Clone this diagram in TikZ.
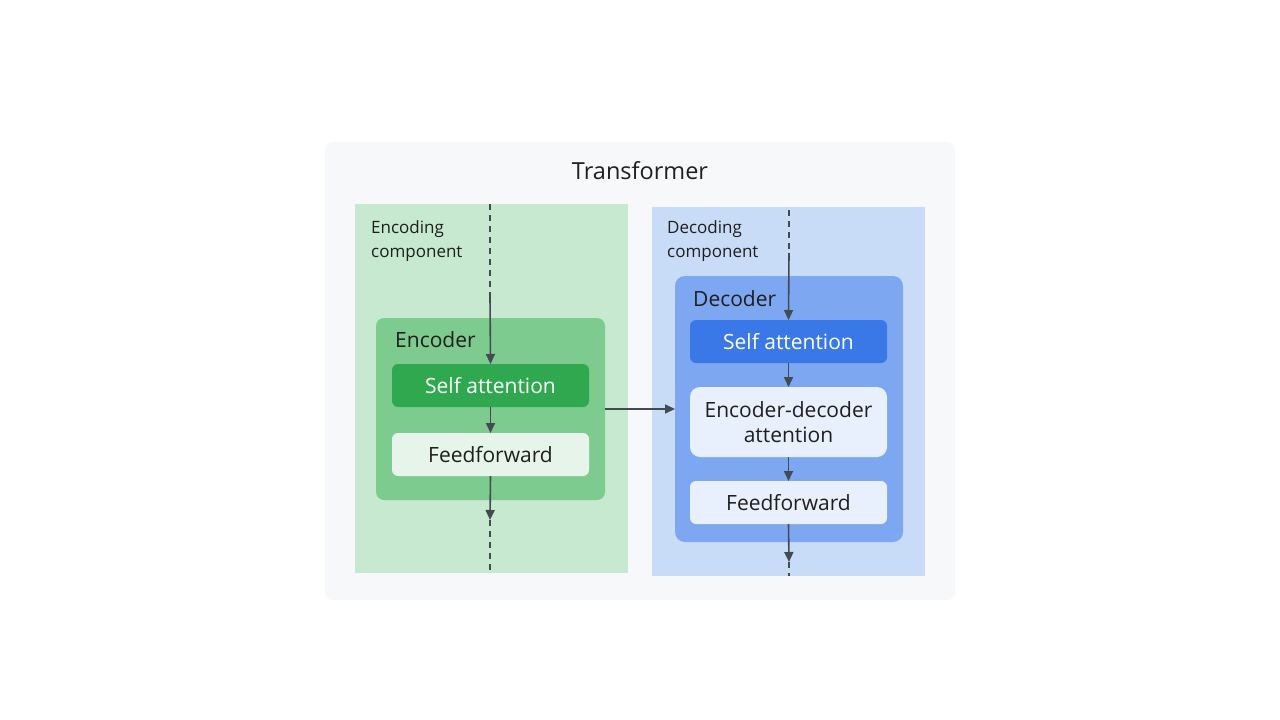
\documentclass[tikz,border=0pt]{standalone}
\usepackage{fontspec}
\setmainfont{Open Sans}
\usetikzlibrary{arrows.meta}
\definecolor{bgpanel}{HTML}{F7F8FA}
\definecolor{encouter}{HTML}{C6E9CF}
\definecolor{encmid}{HTML}{7ECB8F}
\definecolor{encself}{HTML}{2FA84F}
\definecolor{encff}{HTML}{E6F4EA}
\definecolor{decouter}{HTML}{C9DCF7}
\definecolor{decmid}{HTML}{7DA7F1}
\definecolor{decself}{HTML}{3B78E7}
\definecolor{decff}{HTML}{E8F0FD}
\definecolor{txt}{HTML}{1F1F1F}
\definecolor{arr}{HTML}{444A52}
\tikzset{
  region/.style={anchor=north west, inner sep=0pt, outer sep=0pt},
  blk/.style={anchor=north west, inner sep=0pt, outer sep=0pt, rounded corners=6pt},
  lbl/.style={anchor=west, inner sep=0pt, text=txt, font=\fontsize{17}{24}\selectfont, align=left},
  ttl/.style={anchor=west, inner sep=0pt, text=txt, font=\fontsize{21}{26}\selectfont},
  btxt/.style={text=txt, font=\fontsize{21}{26}\selectfont, align=center},
  flow/.style={draw=arr, line width=1.6pt, -{Triangle[length=10pt,width=9pt]}},
  dflow/.style={draw=arr, line width=1.6pt, dash pattern=on 6pt off 5pt},
}
\begin{document}
\begin{tikzpicture}[x=1pt,y=-1pt]
\useasboundingbox (0,0) rectangle (1280,720);
\fill[white] (0,0) rectangle (1280,720);
% outer panel
\node[region, fill=bgpanel, rounded corners=8pt, minimum width=630pt, minimum height=458pt] (panel) at (325,142) {};
\node[txt, font=\fontsize{23.5}{28}\selectfont, inner sep=0pt] (title) at (640,171) {Transformer};
% encoding side
\node[region, fill=encouter, minimum width=273pt, minimum height=369pt] (enccomp) at (355,204) {};
\node[lbl] (enclbl) at (371,241) {Encoding\\component};
\node[blk, fill=encmid, rounded corners=8pt, minimum width=229pt, minimum height=182pt] (encoder) at (376,318) {};
\node[ttl] (enctitle) at (395,340) {Encoder};
\node[blk, fill=encself, minimum width=197pt, minimum height=43pt] (encsa) at (392,364) {};
\node[btxt, text=white] at (encsa.center) {Self attention};
\node[blk, fill=encff, minimum width=197pt, minimum height=43pt] (encff) at (392,433) {};
\node[btxt] at (encff.center) {Feedforward};
% decoding side
\node[region, fill=decouter, minimum width=273pt, minimum height=369pt] (deccomp) at (652,207) {};
\node[lbl] (declbl) at (667,241) {Decoding\\component};
\node[blk, fill=decmid, rounded corners=10pt, minimum width=228pt, minimum height=266pt] (decoder) at (675,276) {};
\node[ttl] (dectitle) at (693,299) {Decoder};
\node[blk, fill=decself, minimum width=197pt, minimum height=43pt] (decsa) at (690,320) {};
\node[btxt, text=white] at (decsa.center) {Self attention};
\node[blk, fill=decff, rounded corners=10pt, minimum width=197pt, minimum height=70pt] (deced) at (690,387) {};
\node[btxt, font=\fontsize{21}{25}\selectfont] at (deced.center) {Encoder-decoder\\attention};
\node[blk, fill=decff, minimum width=197pt, minimum height=43pt] (decff) at (690,481) {};
\node[btxt] at (decff.center) {Feedforward};
% coordinates for dashed ends
\coordinate (encin) at (490,204);
\coordinate (encinmid) at (490,297);
\coordinate (encoutmid) at (490,520);
\coordinate (encout) at (490,573);
\coordinate (decin) at (789,210);
\coordinate (decinmid) at (789,253);
\coordinate (decoutmid) at (789,562);
\coordinate (decout) at (789,576);
% encoder flow
\draw[dflow] (encin) -- (encinmid);
\draw[flow] (encinmid) -- (encsa.north);
\draw[flow] (encsa.south) -- (encff.north);
\draw[flow] (encff.south) -- (encoutmid);
\draw[dflow] (encoutmid) -- (encout);
% decoder flow
\draw[dflow] (decin) -- (decinmid);
\draw[flow] (decinmid) -- (decsa.north);
\draw[flow] (decsa.south) -- (deced.north);
\draw[flow] (deced.south) -- (decff.north);
\draw[flow] (decff.south) -- (decoutmid);
\draw[dflow] (decoutmid) -- (decout);
% cross connection
\draw[flow] (encoder.east |- 0,409) -- (decoder.west |- 0,409);
\end{tikzpicture}
\end{document}
